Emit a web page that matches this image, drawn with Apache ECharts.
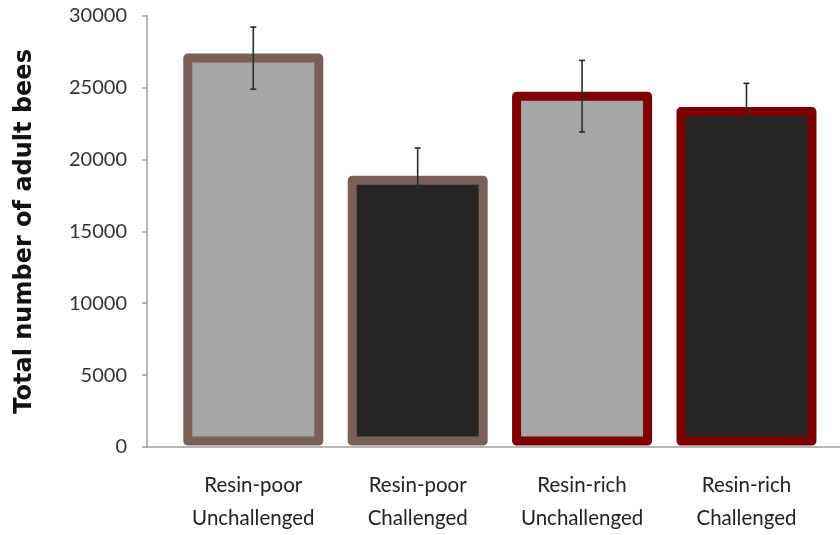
<!DOCTYPE html>
<html>
<head>
<meta charset="utf-8">
<script src="https://cdn.jsdelivr.net/npm/echarts@6/dist/echarts.min.js"></script>
<style>
  html, body { margin: 0; padding: 0; background: #ffffff; }
  #chart { width: 840px; height: 535px; }
</style>
</head>
<body>
<div id="chart"></div>
<script>
// Colony size per treatment group (mean ± error)
const categories = [
  'Resin-poor\nUnchallenged',
  'Resin-poor\nChallenged',
  'Resin-rich\nUnchallenged',
  'Resin-rich\nChallenged'
];
const adultBees = [27050, 18550, 24400, 23330];
const adultBeesError = [2160, 2250, 2490, 1965];
const yTickLabels = ['0', '5000', '10000', '15000', '20000', '25000', '30000'];

// Styling per group
const fillColors = ['#a6a6a6', '#262626', '#a6a6a6', '#262626'];
const borderColors = ['#7b6058', '#7b6058', '#7f0000', '#7f0000'];

const FONT = 'Lato, "DejaVu Sans", sans-serif';
const BAR_WIDTH = 131;
const BORDER = 9;
const positions = categories.map((_, i) => i);

// [x position, value, group index]
const barData = adultBees.map((v, i) => [positions[i], v, i]);
const errorData = adultBees.map((v, i) => [positions[i], v - adultBeesError[i], v + adultBeesError[i]]);

const chart = echarts.init(document.getElementById('chart'), null, { renderer: 'canvas' });

chart.setOption({
  animation: false,
  backgroundColor: '#ffffff',
  grid: { left: 147, right: 0, top: 15.7, bottom: 84 },
  xAxis: {
    type: 'value',
    min: -0.6466,
    max: 3.569,
    splitLine: { show: false },
    axisLine: { show: true, onZero: false, lineStyle: { color: '#a0a0a0', width: 1.5 } },
    axisTick: { show: false },
    axisLabel: {
      customValues: positions,
      formatter: (v) => categories[Math.round(v)],
      color: '#222222',
      fontFamily: FONT,
      fontSize: 20.5,
      lineHeight: 33,
      margin: 22,
      align: 'center'
    }
  },
  yAxis: {
    type: 'value',
    min: 0,
    max: 30000,
    interval: 5000,
    name: 'Total number of adult bees',
    nameLocation: 'middle',
    nameGap: 110,
    nameRotate: 90,
    nameTextStyle: {
      color: '#111111',
      fontFamily: '"DejaVu Sans", sans-serif',
      fontSize: 24,
      fontWeight: 'bold'
    },
    splitLine: { show: false },
    axisLine: { show: true, onZero: false, lineStyle: { color: '#a0a0a0', width: 1.5 } },
    axisTick: { show: true, length: 5, inside: false, lineStyle: { color: '#a0a0a0', width: 1.5 } },
    axisLabel: {
      formatter: (v) => yTickLabels[Math.round(v / 5000)],
      color: '#333333',
      fontFamily: FONT,
      fontSize: 20,
      margin: 20
    }
  },
  series: [
    {
      // Bars with the outline centred on the value edge
      type: 'custom',
      z: 2,
      data: barData,
      encode: { x: 0, y: 1 },
      renderItem: function (params, api) {
        const x = api.value(0);
        const g = api.value(2);
        const top = api.coord([x, api.value(1)]);
        const base = api.coord([x, 0]);
        return {
          type: 'rect',
          shape: {
            x: top[0] - BAR_WIDTH / 2,
            y: top[1],
            width: BAR_WIDTH,
            height: base[1] - top[1] - BORDER / 2 - 1.5
          },
          style: {
            fill: fillColors[g],
            stroke: borderColors[g],
            lineWidth: BORDER,
            lineJoin: 'round'
          }
        };
      }
    },
    {
      type: 'custom',
      z: 5,
      data: errorData,
      encode: { x: 0, y: [1, 2] },
      renderItem: function (params, api) {
        const x = api.value(0);
        const lo = api.coord([x, api.value(1)]);
        const hi = api.coord([x, api.value(2)]);
        const cap = 3;
        const style = { stroke: '#2a2a2a', lineWidth: 1.6 };
        return {
          type: 'group',
          children: [
            { type: 'line', shape: { x1: lo[0], y1: lo[1], x2: hi[0], y2: hi[1] }, style: style },
            { type: 'line', shape: { x1: hi[0] - cap, y1: hi[1], x2: hi[0] + cap, y2: hi[1] }, style: style },
            { type: 'line', shape: { x1: lo[0] - cap, y1: lo[1], x2: lo[0] + cap, y2: lo[1] }, style: style }
          ]
        };
      }
    }
  ]
});
</script>
</body>
</html>
